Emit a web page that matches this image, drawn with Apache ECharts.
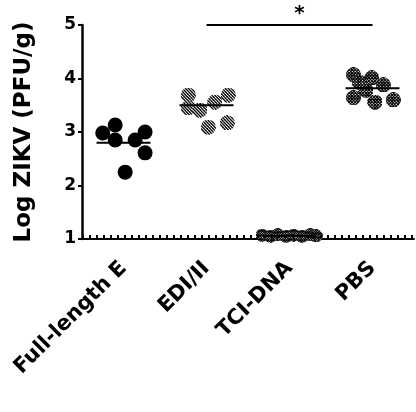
<!DOCTYPE html>
<html>
<head>
<meta charset="utf-8">
<script src="https://cdn.jsdelivr.net/npm/echarts@6/dist/echarts.min.js"></script>
<style>html,body{margin:0;padding:0;background:#fff;}#c{width:416px;height:412px;}</style>
</head>
<body>
<div id="c"></div>
<script>
var categories = ['Full-length E', 'EDI/II', 'TCI-DNA', 'PBS'];
var yTicks = [1, 2, 3, 4, 5];
// [x position within category band (0..4), log value]
var fullLengthE = [[0.25, 2.98], [0.40, 3.13], [0.76, 3.00], [0.76, 2.61], [0.52, 2.25], [0.40, 2.85], [0.64, 2.85]];
var ediII = [[1.28, 3.69], [1.28, 3.45], [1.42, 3.41], [1.76, 3.69], [1.52, 3.09], [1.75, 3.17], [1.60, 3.56]];
var tciDNA = [[2.17, 1.07], [2.27, 1.05], [2.36, 1.08], [2.46, 1.05], [2.55, 1.07], [2.65, 1.05], [2.75, 1.08], [2.82, 1.06]];
var pbs = [[3.27, 4.07], [3.49, 4.01], [3.63, 3.88], [3.27, 3.64], [3.53, 3.56], [3.75, 3.60], [3.42, 3.78], [3.34, 3.93]];
var means = [2.80, 3.50, 1.06, 3.82];
var detectionLimit = 1.06;
var sigFrom = 'EDI/II', sigTo = 'PBS', sigLevel = 5.0, sigLabel = '*';

var FONT = 'DejaVu Sans';

// hatched circle symbol drawn on a small canvas
function hatchedCircle(size, step, cross, lw) {
  var s = 3, c = document.createElement('canvas');
  c.width = size * s; c.height = size * s;
  var g = c.getContext('2d');
  g.scale(s, s);
  g.beginPath(); g.arc(size / 2, size / 2, size / 2, 0, Math.PI * 2); g.closePath();
  g.fillStyle = '#fff'; g.fill();
  g.save(); g.clip();
  g.strokeStyle = '#000'; g.lineWidth = lw;
  g.beginPath();
  for (var k = -size; k <= 2 * size; k += step) {
    g.moveTo(k - size, -1); g.lineTo(k + 1, size + 1);
    if (cross) { g.moveTo(k + 1, -1); g.lineTo(k - size - 1, size + 1); }
  }
  g.stroke();
  g.restore();
  return 'image://' + c.toDataURL();
}

var chart = echarts.init(document.getElementById('c'), null, {renderer: 'canvas'});
chart.setOption({
  animation: false,
  backgroundColor: '#fff',
  grid: {left: 82, right: 2, top: 25, bottom: 173},
  xAxis: [{
    type: 'category', data: categories, boundaryGap: true,
    axisLine: {lineStyle: {color: '#000', width: 2}},
    axisTick: {alignWithLabel: true, length: 5, lineStyle: {color: '#000', width: 2}},
    axisLabel: {rotate: 45, margin: 26, color: '#000', fontFamily: FONT, fontWeight: 'bold', fontSize: 21, interval: 0},
    splitLine: {show: false}
  }, {
    type: 'value', min: 0, max: 4, show: false
  }],
  yAxis: {
    type: 'value', min: 1, max: 5, interval: 1,
    name: 'Log ZIKV (PFU/g)', nameLocation: 'middle', nameGap: 46,
    nameTextStyle: {color: '#000', fontFamily: FONT, fontWeight: 'bold', fontSize: 23},
    axisLine: {show: true, lineStyle: {color: '#000', width: 2.5}},
    axisTick: {show: true, length: 4, lineStyle: {color: '#000', width: 2}},
    axisLabel: {color: '#000', fontFamily: FONT, fontWeight: 'bold', fontSize: 17, margin: 6,
      formatter: function (v) { return yTicks.indexOf(v) >= 0 ? String(v) : ''; }},
    splitLine: {show: false}
  },
  series: [
    {
      type: 'line', xAxisIndex: 0, data: [], silent: true,
      markLine: {
        silent: true, symbol: 'none', label: {show: false},
        lineStyle: {color: '#000', width: 3, type: [2, 5]},
        data: [{yAxis: detectionLimit}]
      }
    },
    {type: 'scatter', xAxisIndex: 1, data: fullLengthE, symbolSize: 15, itemStyle: {color: '#000', opacity: 1}, z: 3},
    {type: 'scatter', xAxisIndex: 1, data: ediII, symbol: hatchedCircle(15, 3, false, 1.3), symbolSize: 15, itemStyle: {opacity: 1}, z: 3},
    {type: 'scatter', xAxisIndex: 1, data: tciDNA, symbol: hatchedCircle(13, 2.5, true, 1.1), symbolSize: 13, itemStyle: {opacity: 1}, z: 3},
    {type: 'scatter', xAxisIndex: 1, data: pbs, symbol: hatchedCircle(15, 3, true, 1.2), symbolSize: 15, itemStyle: {opacity: 1}, z: 3},
    {
      type: 'custom', xAxisIndex: 0, z: 4,
      data: means.map(function (m, i) { return [i, m]; }),
      renderItem: function (params, api) {
        var p = api.coord([api.value(0), api.value(1)]);
        return {type: 'line', shape: {x1: p[0] - 27, y1: p[1], x2: p[0] + 27, y2: p[1]},
          style: {stroke: '#000', lineWidth: 2}};
      }
    },
    {
      type: 'line', xAxisIndex: 0, z: 5, symbol: 'none', clip: false,
      lineStyle: {color: '#000', width: 2},
      data: [[sigFrom, sigLevel], [sigTo, sigLevel]]
    },
    {
      type: 'custom', xAxisIndex: 0, z: 5,
      data: [[sigFrom, sigTo, sigLevel]],
      renderItem: function (params, api) {
        var a = api.coord([categories.indexOf(sigFrom), sigLevel]);
        var b = api.coord([categories.indexOf(sigTo), sigLevel]);
        return {type: 'text', style: {text: sigLabel, x: (a[0] + b[0]) / 2 + 10, y: a[1] - 1,
          textAlign: 'center', textVerticalAlign: 'bottom', fill: '#000',
          font: 'bold 20px "DejaVu Sans"'}};
      }
    }
  ]
});
</script>
</body>
</html>
